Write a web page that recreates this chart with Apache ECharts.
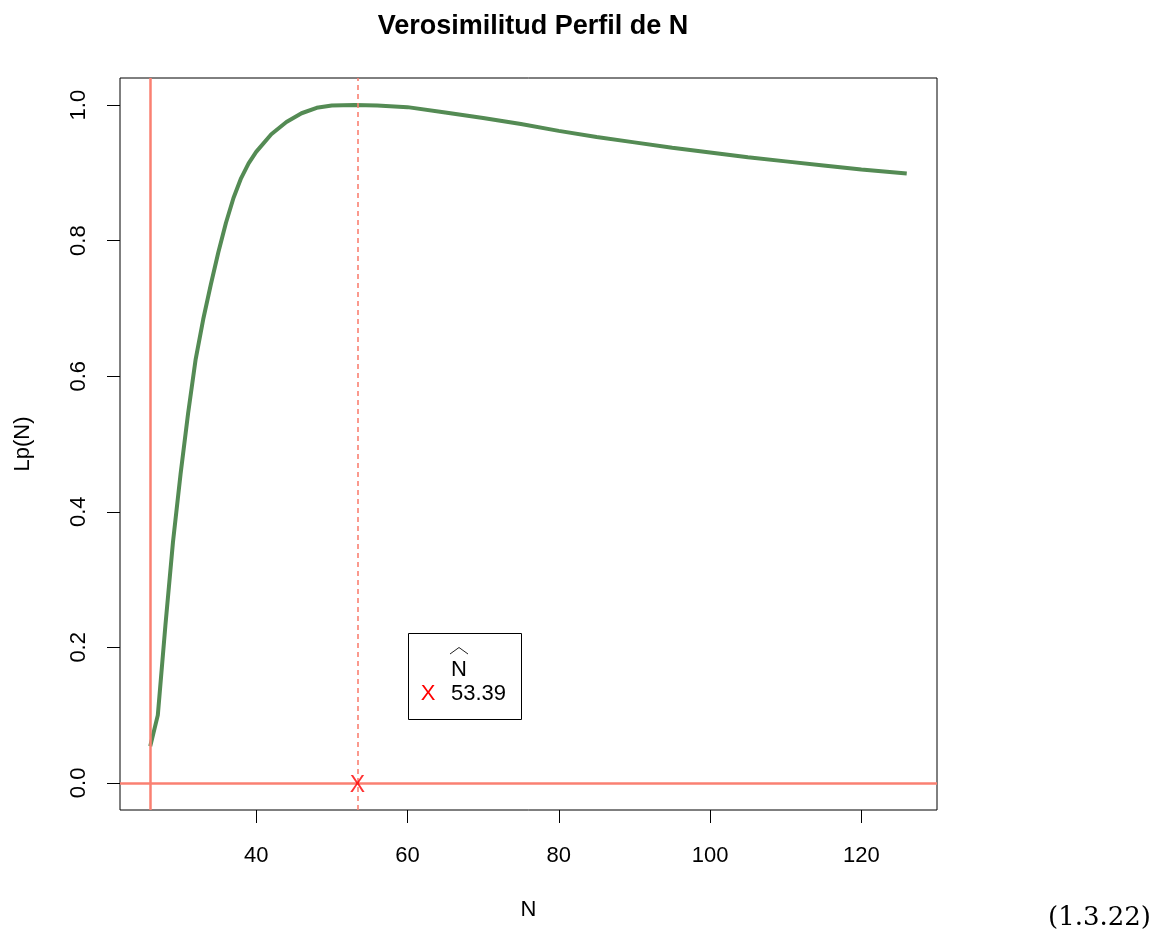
<!DOCTYPE html>
<html>
<head>
<meta charset="utf-8">
<script src="https://cdn.jsdelivr.net/npm/echarts@6/dist/echarts.min.js"></script>
<style>
html,body{margin:0;padding:0;background:#fff;}
#c{width:1165px;height:937px;}
</style>
</head>
<body>
<div id="c"></div>
<script>
// ---- data ----
const titleText = 'Verosimilitud Perfil de N';
const xName = 'N';
const yName = 'Lp(N)';
const nValues = [26, 27, 28, 29, 30, 31, 32, 33, 34, 35, 36, 37, 38, 39, 40, 42, 44, 46, 48, 50, 53, 56, 60, 65, 70, 75, 80, 85, 90, 95, 100, 105, 110, 115, 120, 126];
const lpValues = [0.054, 0.10, 0.232, 0.355, 0.455, 0.545, 0.625, 0.684, 0.735, 0.783, 0.826, 0.863, 0.892, 0.914, 0.931, 0.957, 0.975, 0.988, 0.996, 0.9995, 1.0, 0.9995, 0.997, 0.989, 0.981, 0.972, 0.962, 0.953, 0.945, 0.937, 0.930, 0.923, 0.917, 0.911, 0.905, 0.899];
const xTicks = [40, 60, 80, 100, 120];
const yTicks = [0, 0.2, 0.4, 0.6, 0.8, 1.0];
const nMin = 26;        // solid vertical reference line
const nHat = 53.39;     // MLE (dashed line + X marker)
const zeroLevel = 0;    // horizontal reference line
const markerY = -0.004;
const legendTitle = 'N';
const legendValue = '53.39';
const eqLabel = '(1.3.22)';

const FONT = '"Liberation Sans", Arial, sans-serif';
const chart = echarts.init(document.getElementById('c'), null, {renderer: 'canvas'});

const option = {
  animation: false,
  backgroundColor: '#fff',
  title: {
    text: titleText,
    left: 528, top: 8, textAlign: 'center',
    textStyle: {fontFamily: FONT, fontSize: 27, fontWeight: 'bold', color: '#000'}
  },
  grid: {left: 120, top: 78, right: 228, bottom: 127, show: true, borderColor: '#000', borderWidth: 1, backgroundColor: 'transparent'},
  xAxis: {
    type: 'value', min: 22, max: 130,
    name: xName, nameLocation: 'middle', nameGap: 89,
    nameTextStyle: {fontFamily: FONT, fontSize: 22, color: '#000'},
    axisLine: {show: false, onZero: false},
    splitLine: {show: false},
    axisTick: {show: true, inside: false, customValues: xTicks, length: 13, lineStyle: {color: '#000', width: 1}},
    axisLabel: {customValues: xTicks, margin: 35, fontFamily: FONT, fontSize: 22, color: '#000'}
  },
  yAxis: {
    type: 'value', min: -0.04, max: 1.04,
    name: yName, nameLocation: 'middle', nameGap: 86, nameRotate: 90,
    nameTextStyle: {fontFamily: FONT, fontSize: 22, color: '#000'},
    axisLine: {show: false, onZero: false},
    splitLine: {show: false},
    axisTick: {show: true, inside: false, customValues: yTicks, length: 13, lineStyle: {color: '#000', width: 1}},
    axisLabel: {customValues: yTicks, rotate: 90, margin: 30, fontFamily: FONT, fontSize: 22, color: '#000',
      formatter: v => v.toFixed(1)}
  },
  series: [
    {
      type: 'line', silent: true,
      data: nValues.map((n, i) => [n, lpValues[i]]),
      showSymbol: false, symbol: 'none',
      lineStyle: {color: '#548B54', width: 4},
      z: 3,
      markLine: {
        silent: true, symbol: 'none', label: {show: false},
        data: [
          {xAxis: nMin, lineStyle: {color: '#FA8072', width: 2.5, type: 'solid'}},
          {yAxis: zeroLevel, lineStyle: {color: '#FA8072', width: 2.5, type: 'solid'}},
          {xAxis: nHat, lineStyle: {color: '#FA8072', width: 1.6, type: [5, 4], opacity: 1}}
        ]
      }
    },
    {
      type: 'scatter', silent: true,
      data: [[nHat, markerY]],
      symbol: 'circle', symbolSize: 1,
      itemStyle: {color: 'rgba(0,0,0,0)'},
      label: {show: true, position: 'inside', formatter: 'X', fontFamily: FONT, fontSize: 23, color: '#FF0000'},
      z: 5
    }
  ],
  graphic: [
    {type: 'rect', shape: {x: 408.5, y: 633.5, width: 113, height: 86}, style: {fill: '#fff', stroke: '#000', lineWidth: 1}, z: 10},
    {type: 'polyline', shape: {points: [[450, 654], [459, 647.5], [468, 654]]}, style: {stroke: '#222', fill: null, lineWidth: 1}, z: 11},
    {type: 'text', x: 451, y: 670, style: {text: legendTitle, font: '22px ' + FONT, fill: '#000', align: 'left', verticalAlign: 'middle'}, z: 11},
    {type: 'text', x: 428, y: 694, style: {text: 'X', font: '22px ' + FONT, fill: '#FF0000', align: 'center', verticalAlign: 'middle'}, z: 11},
    {type: 'text', x: 451, y: 694, style: {text: legendValue, font: '22px ' + FONT, fill: '#000', align: 'left', verticalAlign: 'middle'}, z: 11},
    {type: 'text', x: 1151, y: 918, style: {text: eqLabel, font: '26px "DejaVu Serif", "Liberation Serif", serif', fill: '#000', align: 'right', verticalAlign: 'middle'}, z: 11}
  ]
};
chart.setOption(option);
</script>
</body>
</html>
